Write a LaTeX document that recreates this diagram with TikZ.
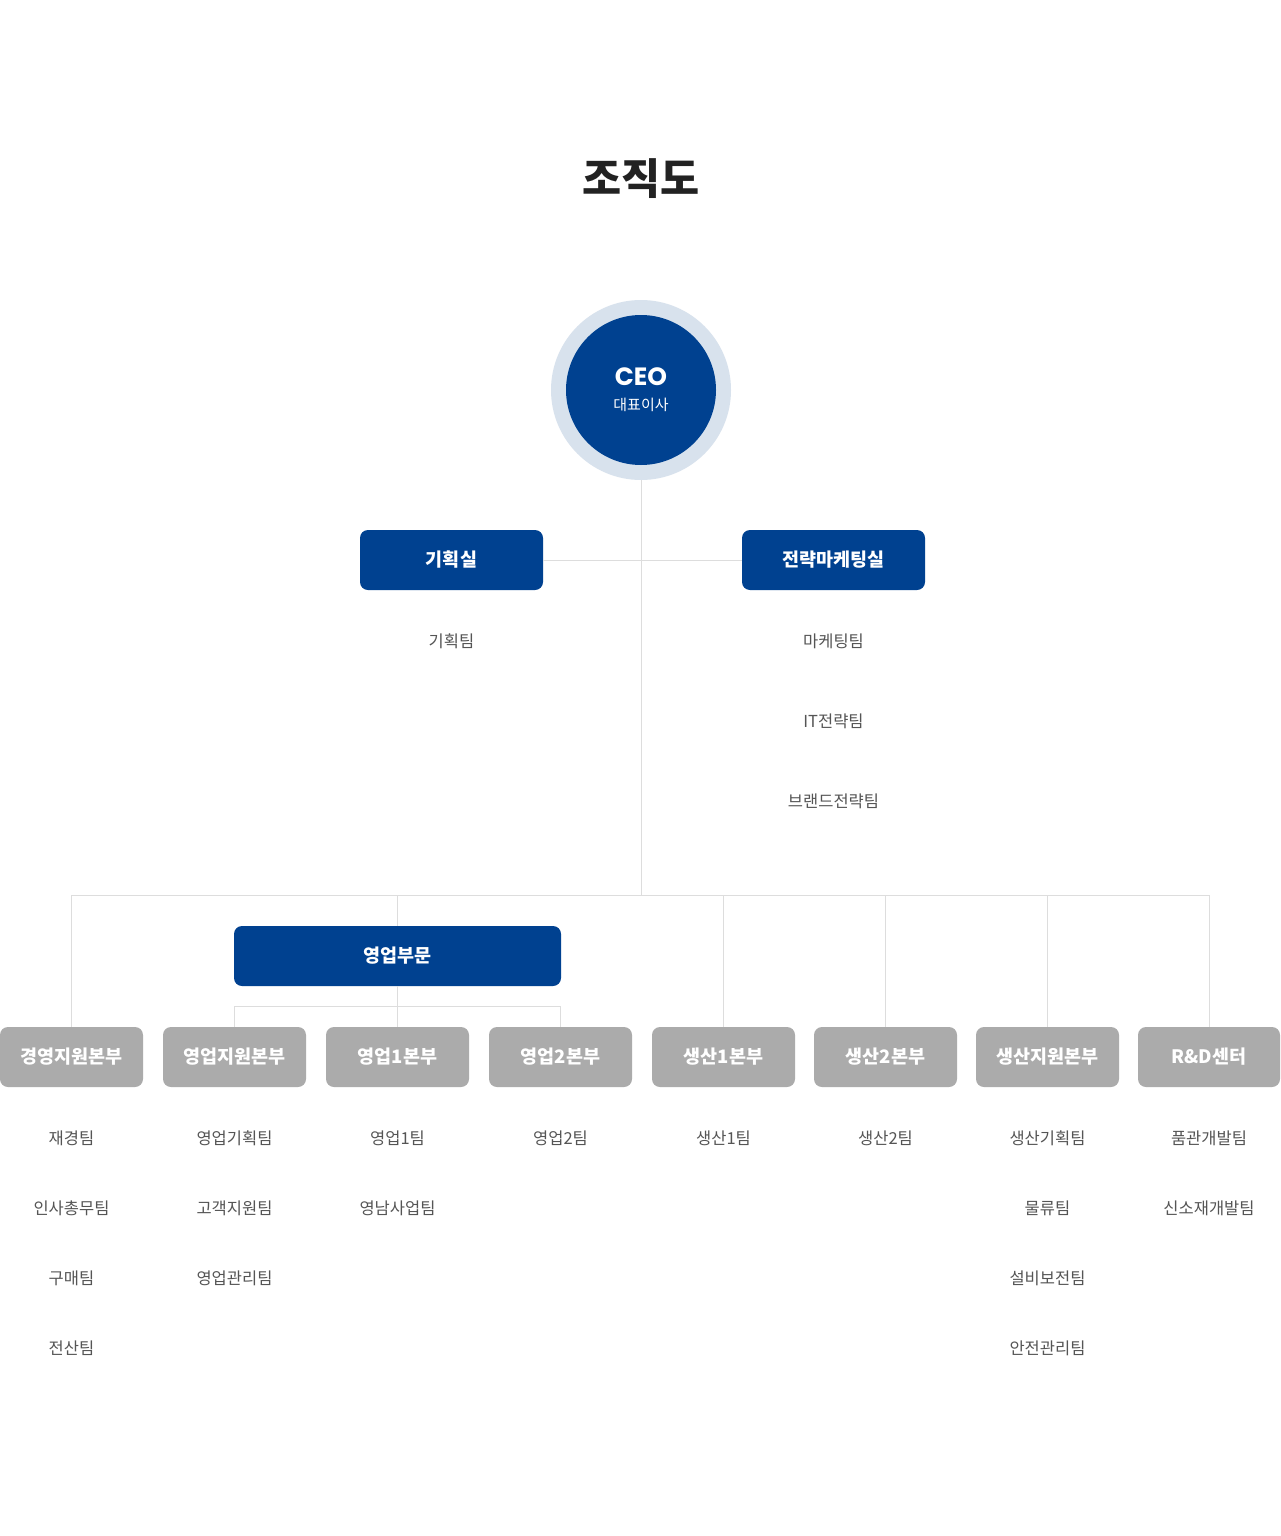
\documentclass[tikz,border=0pt]{standalone}
\usepackage{fontspec}
\setmainfont{Noto Sans CJK KR}
\newfontfamily\latinceo{Poppins}
\definecolor{navy}{HTML}{004190}
\definecolor{ring}{HTML}{D8E2ED}
\definecolor{boxgray}{HTML}{ABABAB}
\definecolor{linegray}{HTML}{DDDDDD}
\definecolor{teamtext}{HTML}{555555}
\definecolor{titletext}{HTML}{222222}
\begin{document}
\begin{tikzpicture}[x=1pt,y=-1pt,
  conn/.style={draw=linegray,line width=1pt},
  bluebox/.style={fill=navy,rounded corners=8pt,minimum height=60pt,text=white,font=\bfseries\fontsize{18.5}{20}\selectfont,inner sep=0pt},
  graybox/.style={fill=boxgray,rounded corners=8pt,minimum width=143pt,minimum height=60pt,text=white,font=\bfseries\fontsize{18.5}{20}\selectfont,inner sep=0pt},
  team/.style={text=teamtext,font=\fontsize{16.5}{18}\selectfont,inner sep=0pt}]
\useasboundingbox (0,0) rectangle (1280,1536);
\fill[white] (0,0) rectangle (1280,1536);
% title
\node[text=titletext,font=\bfseries\fontsize{42.5}{46}\selectfont] (title) at (641,179) {조직도};
% CEO
\node[circle,fill=ring,minimum size=180pt,inner sep=0pt] (ceoring) at (641,390) {};
\node[circle,fill=navy,minimum size=150pt,inner sep=0pt] (ceo) at (641,390) {};
\node[text=white,font=\latinceo\bfseries\fontsize{25}{27}\selectfont,inner sep=0pt] (ceolabel) at (641,377) {CEO};
\node[text=white,font=\fontsize{15}{17}\selectfont,inner sep=0pt] (ceosub) at (641,405) {대표이사};
% junction
\coordinate (j) at (641,895);
% level 2
\node[bluebox,minimum width=183pt] (plan) at (451.5,560) {기획실};
\node[bluebox,minimum width=183pt] (strat) at (833.5,560) {전략마케팅실};
\node[bluebox,minimum width=327pt] (sales) at (397.5,956) {영업부문};
% gray boxes
\node[graybox] (b1) at (71.5,1057) {경영지원본부};
\node[graybox] (b2) at (234.5,1057) {영업지원본부};
\node[graybox] (b3) at (397.5,1057) {영업1본부};
\node[graybox] (b4) at (560.5,1057) {영업2본부};
\node[graybox] (b5) at (723.5,1057) {생산1본부};
\node[graybox] (b6) at (885.5,1057) {생산2본부};
\node[graybox] (b7) at (1047.5,1057) {생산지원본부};
\node[graybox,minimum width=142pt] (b8) at (1209,1057) {R\&D센터};
% connectors
\draw[conn] (ceoring.south) -- (j);
\draw[conn] (plan.east) -- (strat.west);
\draw[conn] (b1.north) -- (b1.north |- j) -- (b8.north |- j) -- (b8.north);
\draw[conn] (sales.north) -- (sales.north |- j);
\draw[conn] (b5.north) -- (b5.north |- j);
\draw[conn] (b6.north) -- (b6.north |- j);
\draw[conn] (b7.north) -- (b7.north |- j);
\coordinate (sbus) at (397.5,1006);
\draw[conn] (sales.south) -- (b3.north);
\draw[conn] (b2.north) -- (b2.north |- sbus) -- (b4.north |- sbus) -- (b4.north);
% teams level 2
\node[team] (t1) at (451.5,641) {기획팀};
\node[team] (t2) at (833.5,641) {마케팅팀};
\node[team] (t3) at (833.5,721) {IT전략팀};
\node[team] (t4) at (833.5,801) {브랜드전략팀};
% teams bottom
\node[team] (c11) at (71.5,1138) {재경팀};
\node[team] (c12) at (71.5,1208) {인사총무팀};
\node[team] (c13) at (71.5,1278) {구매팀};
\node[team] (c14) at (71.5,1348) {전산팀};
\node[team] (c21) at (234.5,1138) {영업기획팀};
\node[team] (c22) at (234.5,1208) {고객지원팀};
\node[team] (c23) at (234.5,1278) {영업관리팀};
\node[team] (c31) at (397.5,1138) {영업1팀};
\node[team] (c32) at (397.5,1208) {영남사업팀};
\node[team] (c41) at (560.5,1138) {영업2팀};
\node[team] (c51) at (723.5,1138) {생산1팀};
\node[team] (c61) at (885.5,1138) {생산2팀};
\node[team] (c71) at (1047.5,1138) {생산기획팀};
\node[team] (c72) at (1047.5,1208) {물류팀};
\node[team] (c73) at (1047.5,1278) {설비보전팀};
\node[team] (c74) at (1047.5,1348) {안전관리팀};
\node[team] (c81) at (1209,1138) {품관개발팀};
\node[team] (c82) at (1209,1208) {신소재개발팀};
\end{tikzpicture}
\end{document}
